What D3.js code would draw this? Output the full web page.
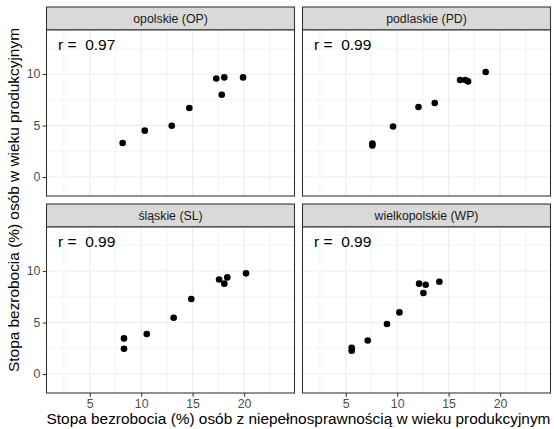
<!DOCTYPE html>
<html>
<head>
<meta charset="utf-8">
<script src="https://cdn.jsdelivr.net/npm/d3@7"></script>
<style>
  body { margin: 0; background: #fff; }
  svg { font-family: "Liberation Sans", Arial, sans-serif; }
</style>
</head>
<body>
<svg id="chart" width="554" height="429"></svg>
<script>
// data
const regions = ["opolskie (OP)", "podlaskie (PD)", "śląskie (SL)", "wielkopolskie (WP)"];
const rLabels = ["0.97", "0.99", "0.99", "0.99"];

const xOP = [8.2, 10.35, 12.97, 14.68, 17.3, 18.08, 17.83, 19.9];
const yOP = [3.3, 4.5, 4.98, 6.7, 9.57, 9.67, 7.99, 9.67];

const xPD = [7.59, 7.59, 9.6, 12.07, 13.65, 16.11, 16.63, 16.89, 18.6];
const yPD = [3.25, 3.07, 4.91, 6.8, 7.18, 9.42, 9.42, 9.28, 10.19];

const xSL = [8.33, 8.33, 10.54, 13.16, 14.87, 17.57, 18.37, 18.08, 20.19];
const ySL = [3.46, 2.46, 3.88, 5.47, 7.28, 9.18, 9.38, 8.77, 9.77];

const xWP = [5.58, 5.58, 7.14, 9.01, 10.22, 12.13, 12.77, 12.55, 14.1];
const yWP = [2.55, 2.26, 3.26, 4.85, 5.98, 8.77, 8.67, 7.86, 8.96];

const xTicks = [5, 10, 15, 20];
const yTicks = [0, 5, 10];
const xMinor = [2.5, 7.5, 12.5, 17.5, 22.5];
const yMinor = [2.5, 7.5, 12.5];

const xTitle = "Stopa bezrobocia (%) osób z niepełnosprawnością w wieku produkcyjnym";
const yTitle = "Stopa bezrobocia (%) osób w wieku produkcyjnym";

const series = [[xOP, yOP], [xPD, yPD], [xSL, ySL], [xWP, yWP]];

const svg = d3.select("#chart");

const colX = [46.5, 302.5];
const rowY = [7, 204];
const panelW = 248, panelH = 166, stripH = 23;

const x = d3.scaleLinear().domain([0.8, 24.9]).range([0, panelW]);
const y = d3.scaleLinear().domain([-1.84, 14.27]).range([panelH, 0]);

regions.forEach(function (name, i) {
    const col = i % 2, row = Math.floor(i / 2);
    const [xs, ys] = series[i];
    const pts = xs.map((v, j) => ({x: v, y: ys[j]}));

    // strip
    const s = svg.append("g").attr("transform", `translate(${colX[col]},${rowY[row]})`);
    s.append("rect")
        .attr("width", panelW).attr("height", stripH)
        .attr("fill", "#d9d9d9").attr("stroke", "#333").attr("stroke-width", 1.07);
    s.append("text")
        .attr("x", panelW / 2).attr("y", stripH / 2).attr("dy", "0.35em")
        .attr("text-anchor", "middle")
        .attr("font-size", "12.3px").attr("fill", "#1a1a1a")
        .text(name);

    const g = svg.append("g").attr("transform", `translate(${colX[col]},${rowY[row] + stripH})`);
    g.append("rect").attr("width", panelW).attr("height", panelH).attr("fill", "#fff");

    // grid
    g.selectAll(".xminor").data(xMinor).enter().append("line")
        .attr("x1", d => x(d)).attr("x2", d => x(d)).attr("y1", 0).attr("y2", panelH)
        .attr("stroke", "#ebebeb").attr("stroke-width", 0.53);
    g.selectAll(".yminor").data(yMinor).enter().append("line")
        .attr("y1", d => y(d)).attr("y2", d => y(d)).attr("x1", 0).attr("x2", panelW)
        .attr("stroke", "#ebebeb").attr("stroke-width", 0.53);
    g.selectAll(".xmajor").data(xTicks).enter().append("line")
        .attr("x1", d => x(d)).attr("x2", d => x(d)).attr("y1", 0).attr("y2", panelH)
        .attr("stroke", "#ebebeb").attr("stroke-width", 1.07);
    g.selectAll(".ymajor").data(yTicks).enter().append("line")
        .attr("y1", d => y(d)).attr("y2", d => y(d)).attr("x1", 0).attr("x2", panelW)
        .attr("stroke", "#ebebeb").attr("stroke-width", 1.07);

    // points
    g.selectAll("circle").data(pts).enter().append("circle")
        .attr("cx", d => x(d.x)).attr("cy", d => y(d.y))
        .attr("r", 3.3).attr("fill", "#000");

    // r annotation
    g.append("text")
        .attr("x", 11.5).attr("y", 14.5).attr("dy", "0.35em")
        .attr("font-size", "15.5px").attr("fill", "#000")
        .attr("xml:space", "preserve")
        .text("r =  " + rLabels[i]);

    // border
    g.append("rect").attr("width", panelW).attr("height", panelH)
        .attr("fill", "none").attr("stroke", "#333").attr("stroke-width", 1.07);

    // axes
    if (col === 0) {
        const ay = g.append("g").call(d3.axisLeft(y).tickValues(yTicks).tickSize(3.7).tickPadding(2.5));
        ay.select(".domain").remove();
        ay.selectAll("line").attr("stroke", "#333").attr("stroke-width", 1.07);
        ay.selectAll("text").attr("font-size", "12.3px").attr("fill", "#4d4d4d")
            .attr("font-family", "Liberation Sans, Arial, sans-serif");
    }
    if (row === 1) {
        const ax = g.append("g").attr("transform", `translate(0,${panelH})`)
            .call(d3.axisBottom(x).tickValues(xTicks).tickSize(3.7).tickPadding(2.5));
        ax.select(".domain").remove();
        ax.selectAll("line").attr("stroke", "#333").attr("stroke-width", 1.07);
        ax.selectAll("text").attr("font-size", "12.3px").attr("fill", "#4d4d4d")
            .attr("font-family", "Liberation Sans, Arial, sans-serif");
    }
});

// axis titles
svg.append("text")
    .attr("x", (colX[0] + colX[1] + panelW) / 2).attr("y", 424)
    .attr("text-anchor", "middle").attr("font-size", "15.4px").attr("fill", "#000")
    .text(xTitle);

svg.append("text")
    .attr("transform", `translate(19,${(rowY[0] + rowY[1] + stripH + panelH) / 2}) rotate(-90)`)
    .attr("text-anchor", "middle").attr("font-size", "15.4px").attr("fill", "#000")
    .text(yTitle);
</script>
</body>
</html>
